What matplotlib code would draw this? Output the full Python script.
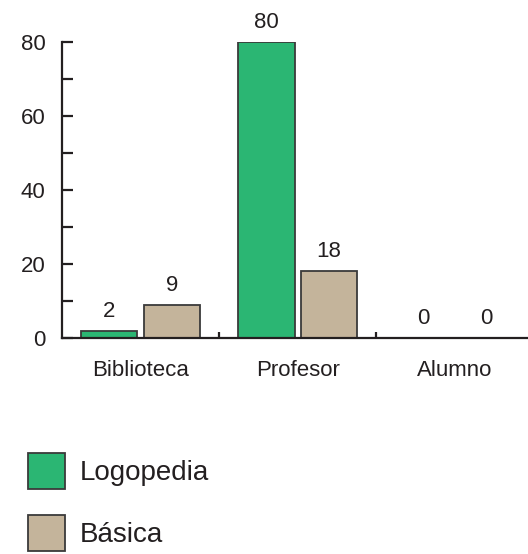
import matplotlib
matplotlib.use("Agg")
import matplotlib.pyplot as plt
import numpy as np

categories = ["Biblioteca", "Profesor", "Alumno"]
series_names = ["Logopedia", "Básica"]
logopedia = [2, 80, 0]
basica = [9, 18, 0]
yticks = [0, 20, 40, 60, 80]

plt.rcParams['font.family'] = ['Liberation Sans', 'DejaVu Sans']
dark = "#231f20"
green = "#2bb673"
tan = "#c4b49b"

fig = plt.figure(figsize=(5.28, 5.54), dpi=100)
W, H = 528, 554
ax = fig.add_axes([62 / W, (H - 338) / H, (W - 62) / W, (338 - 42) / H])

x = np.arange(len(categories))
w = 0.36
off = 0.2
b1 = ax.bar(x - off, logopedia, w, color=green, edgecolor="#3a3a3a", linewidth=1.3, label=series_names[0])
b2 = ax.bar(x + off, basica, w, color=tan, edgecolor="#3a3a3a", linewidth=1.3, label=series_names[1])

for bars, vals in ((b1, logopedia), (b2, basica)):
    for r, v in zip(bars, vals):
        ax.annotate(str(v), (r.get_x() + r.get_width() / 2, v), xytext=(0, 6.5),
                    textcoords="offset points", ha="center", va="bottom",
                    fontsize=16, color=dark, annotation_clip=False)

ax.set_xlim(-0.5, 2.465)
ax.set_ylim(0, 80)
for s in ("top", "right"):
    ax.spines[s].set_visible(False)
for s in ("left", "bottom"):
    ax.spines[s].set_linewidth(1.6)
    ax.spines[s].set_color(dark)

ax.set_yticks(yticks)
ax.set_yticks([10, 30, 50, 70], minor=True)
ax.tick_params(axis="y", which="both", direction="in", length=8, width=1.6,
               color=dark, labelsize=16, labelcolor=dark, pad=12)

ax.set_xticks(x)
ax.set_xticklabels(categories)
ax.set_xticks([0.5, 1.5], minor=True)
ax.tick_params(axis="x", which="major", length=0, labelsize=16, labelcolor=dark, pad=16)
ax.tick_params(axis="x", which="minor", direction="in", length=4.5, width=1.6, color=dark)

fig.legend(handles=[b1, b2], labels=series_names, loc="upper left",
           bbox_to_anchor=(28 / W, 1 - 453 / H), frameon=False,
           borderpad=0, borderaxespad=0,
           fontsize=20, handlelength=1.33, handleheight=1.6,
           handletextpad=0.54, labelspacing=0.94, labelcolor=dark)

fig.savefig("out.png", dpi=100)
